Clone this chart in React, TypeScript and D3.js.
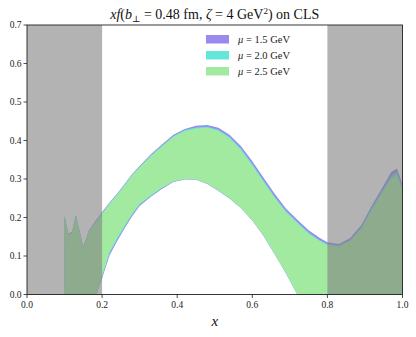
import React from 'react';
import * as d3 from 'd3';

// x grid shared by the three bands
const xGrid = [0.1, 0.11, 0.12, 0.13, 0.15, 0.165, 0.185, 0.2, 0.22, 0.24, 0.26, 0.28, 0.3, 0.33, 0.36, 0.39, 0.42, 0.45, 0.48, 0.51, 0.54, 0.57, 0.6, 0.63, 0.66, 0.69, 0.72, 0.75, 0.78, 0.8, 0.83, 0.86, 0.89, 0.92, 0.95, 0.97, 0.985, 1.0];

// mu = 1.5 GeV
const upper15 = [0.205, 0.158, 0.163, 0.207, 0.124, 0.167, 0.195, 0.214, 0.239, 0.262, 0.287, 0.313, 0.334, 0.364, 0.39, 0.415, 0.43, 0.438, 0.44, 0.433, 0.414, 0.385, 0.346, 0.303, 0.261, 0.223, 0.194, 0.167, 0.147, 0.136, 0.131, 0.146, 0.18, 0.234, 0.284, 0.318, 0.327, 0.287];
const lower15 = [0, 0, 0, 0, 0, 0, 0, 0.042, 0.102, 0.138, 0.172, 0.203, 0.23, 0.254, 0.275, 0.292, 0.299, 0.298, 0.287, 0.269, 0.249, 0.224, 0.192, 0.152, 0.104, 0.054, 0, 0, 0, 0, 0, 0, 0, 0, 0, 0, 0, 0];
// mu = 2.0 GeV
const upper20 = [0.203, 0.156, 0.161, 0.205, 0.122, 0.165, 0.192, 0.212, 0.237, 0.26, 0.285, 0.311, 0.332, 0.362, 0.387, 0.412, 0.427, 0.434, 0.436, 0.428, 0.409, 0.379, 0.339, 0.296, 0.254, 0.217, 0.188, 0.161, 0.141, 0.131, 0.127, 0.141, 0.174, 0.227, 0.276, 0.307, 0.318, 0.278];
const lower20 = [0, 0, 0, 0, 0, 0, 0, 0.046, 0.107, 0.143, 0.176, 0.207, 0.233, 0.256, 0.277, 0.293, 0.3, 0.299, 0.288, 0.27, 0.25, 0.225, 0.193, 0.153, 0.105, 0.055, 0, 0, 0, 0, 0, 0, 0, 0, 0, 0, 0, 0];
// mu = 2.5 GeV
const upper25 = [0.202, 0.154, 0.16, 0.204, 0.12, 0.163, 0.19, 0.21, 0.235, 0.258, 0.283, 0.31, 0.33, 0.36, 0.385, 0.41, 0.424, 0.431, 0.433, 0.425, 0.405, 0.375, 0.335, 0.292, 0.25, 0.213, 0.185, 0.158, 0.138, 0.128, 0.124, 0.138, 0.17, 0.222, 0.27, 0.3, 0.31, 0.27];
const lower25 = [0, 0, 0, 0, 0, 0, 0, 0.05, 0.112, 0.147, 0.18, 0.21, 0.236, 0.258, 0.278, 0.294, 0.3, 0.299, 0.288, 0.27, 0.25, 0.225, 0.193, 0.153, 0.105, 0.055, 0, 0, 0, 0, 0, 0, 0, 0, 0, 0, 0, 0];

const labels = ['1.5 GeV', '2.0 GeV', '2.5 GeV'];
const colors = ['#9a8aee', '#64e6da', '#a3eaa1'];
const xTicks = [0, 0.2, 0.4, 0.6, 0.8, 1.0];
const yTicks = [0, 0.1, 0.2, 0.3, 0.4, 0.5, 0.6, 0.7];
const shaded = [[0, 0.2], [0.8, 1.0]];

const W = 416;
const H = 337;
const m = { left: 27, right: 13.5, top: 25, bottom: 42.5 };
const font = '"Liberation Serif", "DejaVu Serif", serif';

const App = () => {
  const x = d3.scaleLinear().domain([0, 1]).range([m.left, W - m.right]);
  const y = d3.scaleLinear().domain([0, 0.7]).range([H - m.bottom, m.top]);

  const bands = [
    [upper15, lower15],
    [upper20, lower20],
    [upper25, lower25],
  ];

  const makePath = (up: number[], lo: number[]) => {
    const a = d3
      .area<number>()
      .x((d, i) => x(xGrid[i]))
      .y0((d, i) => y(lo[i]))
      .y1((d) => y(d));
    return a(up) || '';
  };

  return (
    <div style={{ position: 'absolute', left: 0, top: 0 }}>
      <svg width={W} height={H} style={{ display: 'block', background: '#fff' }}>
        {/* bands */}
        {bands.map((b, i) => (
          <path key={i} d={makePath(b[0], b[1])} fill={colors[i]} stroke="none" />
        ))}
        {/* shaded excluded regions */}
        {shaded.map((s, i) => (
          <rect key={i} x={x(s[0])} y={y(0.7)} width={x(s[1]) - x(s[0])} height={y(0) - y(0.7)} fill="#808080" fillOpacity={0.6} />
        ))}
        {/* frame */}
        <rect x={x(0)} y={y(0.7)} width={x(1) - x(0)} height={y(0) - y(0.7)} fill="none" stroke="#222" strokeWidth={0.9} />
        {/* x ticks */}
        {xTicks.map((t) => (
          <g key={t} transform={`translate(${x(t)},${y(0)})`}>
            <line y2={3.5} stroke="#222" strokeWidth={0.8} />
            <text y={13} textAnchor="middle" fontFamily={font} fontSize={9.5} fill="#222">{t.toFixed(1)}</text>
          </g>
        ))}
        {/* y ticks */}
        {yTicks.map((t) => (
          <g key={t} transform={`translate(${x(0)},${y(t)})`}>
            <line x2={-3.5} stroke="#222" strokeWidth={0.8} />
            <text x={-5.5} dy="0.32em" textAnchor="end" fontFamily={font} fontSize={9.5} fill="#222">{t.toFixed(1)}</text>
          </g>
        ))}
        {/* axis label */}
        <text x={(x(0) + x(1)) / 2} y={326} textAnchor="middle" fontFamily={font} fontSize={15} fontStyle="italic" fill="#111">x</text>
        {/* title */}
        <text x={(x(0) + x(1)) / 2} y={19} textAnchor="middle" fontFamily={font} fontSize={14} fill="#111">
          <tspan fontStyle="italic">xf</tspan>
          <tspan>(</tspan>
          <tspan fontStyle="italic">b</tspan>
          <tspan fontSize={9} dy={3}>{'\u22a5'}</tspan>
          <tspan dy={-3}>{' = 0.48 fm, '}</tspan>
          <tspan fontStyle="italic">{'\u03b6'}</tspan>
          <tspan>{' = 4 GeV'}</tspan>
          <tspan fontSize={9} dy={-5}>2</tspan>
          <tspan dy={5}>) on CLS</tspan>
        </text>
        {/* legend */}
        {labels.map((l, i) => (
          <g key={l} transform={`translate(206,${35 + i * 16})`}>
            <rect width={23} height={8.5} fill={colors[i]} />
            <text x={32} y={8} fontFamily={font} fontSize={10.5} fill="#222">
              <tspan fontStyle="italic">{'\u03bc'}</tspan>
              {' = ' + l}
            </text>
          </g>
        ))}
      </svg>
    </div>
  );
};

export default App;
